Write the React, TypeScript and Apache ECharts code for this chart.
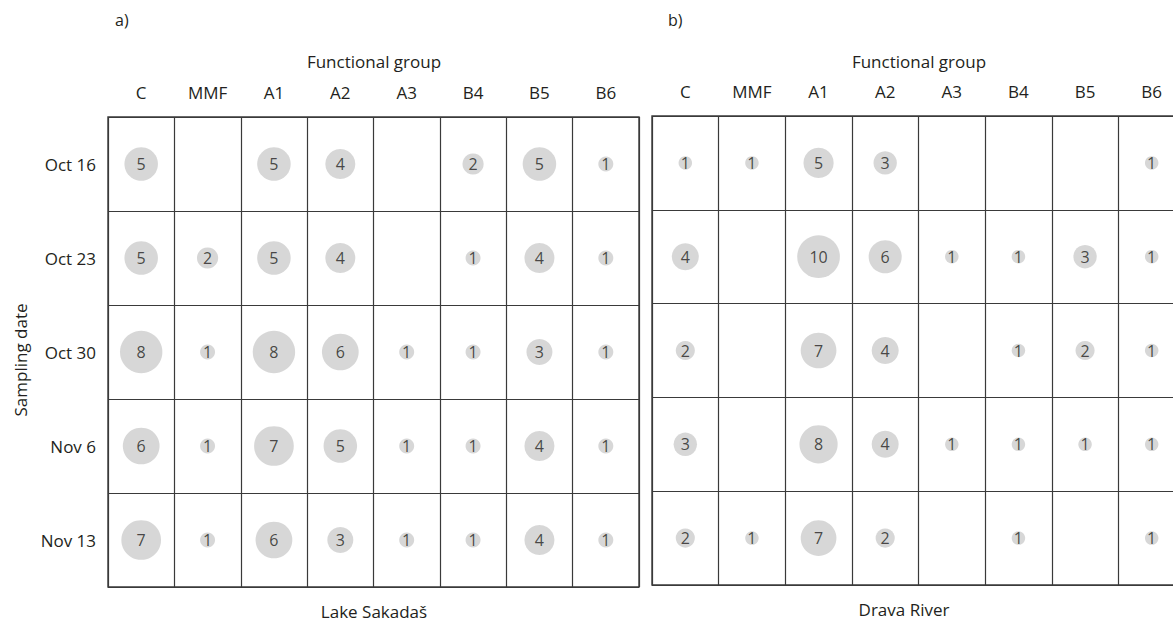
import React, { useEffect, useRef } from "react";
import * as echarts from "echarts";

const groups = ["C", "MMF", "A1", "A2", "A3", "B4", "B5", "B6"];
const dates = ["Oct 16", "Oct 23", "Oct 30", "Nov 6", "Nov 13"];

// rows = dates, columns = groups; null = empty cell
const lakeSakadas: (number | null)[][] = [
  [5, null, 5, 4, null, 2, 5, 1],
  [5, 2, 5, 4, null, 1, 4, 1],
  [8, 1, 8, 6, 1, 1, 3, 1],
  [6, 1, 7, 5, 1, 1, 4, 1],
  [7, 1, 6, 3, 1, 1, 4, 1],
];

const dravaRiver: (number | null)[][] = [
  [1, 1, 5, 3, null, null, null, 1],
  [4, null, 10, 6, 1, 1, 3, 1],
  [2, null, 7, 4, null, 1, 2, 1],
  [3, null, 8, 4, 1, 1, 1, 1],
  [2, 1, 7, 2, null, 1, null, 1],
];

const FONT = "Open Sans";
const TXT = "#231f20";
const LINE = "#3a3a3a";
const BUBBLE = "#cdcdcd";

function toPoints(m: (number | null)[][]) {
  const out: number[][] = [];
  m.forEach((row, r) =>
    row.forEach((v, c) => {
      if (v !== null) out.push([c, r, v]);
    })
  );
  return out;
}

export default function App() {
  const ref = useRef<HTMLDivElement>(null);
  useEffect(() => {
    if (!ref.current) return;
    const chart = echarts.init(ref.current, null, { renderer: "svg" });
    const xAxisBase = (gi: number) => ({
      type: "category",
      gridIndex: gi,
      data: groups,
      position: "top",
      boundaryGap: true,
      axisLine: { show: false },
      axisTick: { show: false },
      axisLabel: { fontFamily: FONT, fontSize: 17, color: TXT, margin: 16 },
      splitLine: { show: true, lineStyle: { color: LINE, width: 1.2 } },
    });
    const yAxisBase = (gi: number, showLabels: boolean) => ({
      type: "category",
      gridIndex: gi,
      data: dates,
      inverse: true,
      boundaryGap: true,
      axisLine: { show: false },
      axisTick: { show: false },
      axisLabel: { show: showLabels, fontFamily: FONT, fontSize: 17, color: TXT, margin: 12 },
      splitLine: { show: true, lineStyle: { color: LINE, width: 1.2 } },
    });
    const seriesBase = (gi: number, data: number[][], k: number) => ({
      type: "scatter",
      xAxisIndex: gi,
      yAxisIndex: gi,
      data,
      symbol: "circle",
      symbolSize: (v: number[]) => k * Math.sqrt(v[2]),
      itemStyle: { color: BUBBLE },
      label: {
        show: true,
        position: "inside",
        formatter: (p: any) => String(p.value[2]),
        fontFamily: FONT,
        fontSize: 16,
        color: TXT,
      },
      emphasis: { disabled: true },
    });
    const txt = (text: string, x: number, y: number, extra: any = {}) => ({
      type: "text",
      x,
      y,
      style: {
        text,
        fontFamily: FONT,
        fontSize: 17,
        fill: TXT,
        align: "center",
        verticalAlign: "middle",
        ...extra,
      },
    });
    chart.setOption({
      animation: false,
      backgroundColor: "#ffffff",
      grid: [
        {
          left: 108, top: 117, width: 531, height: 470, show: true,
          borderColor: LINE, borderWidth: 1.4, outerBoundsMode: "none", containLabel: false,
        },
        {
          left: 652, top: 116, width: 533, height: 469, show: true,
          borderColor: LINE, borderWidth: 1.4, outerBoundsMode: "none", containLabel: false,
        },
      ],
      xAxis: [xAxisBase(0), xAxisBase(1)],
      yAxis: [yAxisBase(0, true), yAxisBase(1, false)],
      series: [seriesBase(0, toPoints(lakeSakadas), 15), seriesBase(1, toPoints(dravaRiver), 13.5)],
      graphic: [
        txt("a)", 115, 20, { align: "left", fontSize: 16 }),
        txt("b)", 668, 20, { align: "left", fontSize: 16 }),
        txt("Functional group", 374, 61),
        txt("Functional group", 919, 61),
        txt("Lake Sakadaš", 374, 611),
        txt("Drava River", 904, 609),
        { ...txt("Sampling date", 20, 360), rotation: Math.PI / 2 },
      ],
    });
    return () => chart.dispose();
  }, []);
  return (
    <div
      ref={ref}
      style={{ position: "absolute", left: 0, top: 0, width: 1173, height: 621, overflow: "hidden" }}
    />
  );
}
